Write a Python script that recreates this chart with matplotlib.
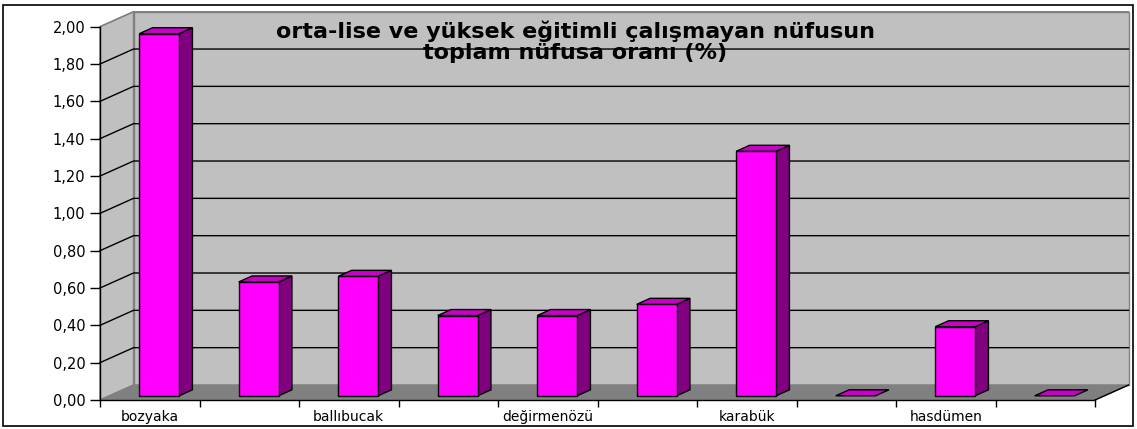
import matplotlib
matplotlib.use("Agg")
import matplotlib.pyplot as plt
from matplotlib.patches import Polygon, Rectangle

# ---- data ----
categories = ["bozyaka", "", "ballıbucak", "", "değirmenözü", "", "karabük", "", "hasdümen", ""]
values = [1.94, 0.61, 0.64, 0.43, 0.43, 0.49, 1.31, 0.00, 0.37, 0.00]
yticks = [0.0, 0.2, 0.4, 0.6, 0.8, 1.0, 1.2, 1.4, 1.6, 1.8, 2.0]
ytick_labels = ["0,00", "0,20", "0,40", "0,60", "0,80", "1,00", "1,20", "1,40", "1,60", "1,80", "2,00"]
title = "orta-lise ve yüksek eğitimli çalışmayan nüfusun\ntoplam nüfusa oranı (%)"

W, H = 1137, 429
fig = plt.figure(figsize=(W / 100, H / 100), dpi=100)
fig.patch.set_facecolor("white")

# outer border
fig.add_artist(Rectangle((3 / W, 3 / H), 1130 / W, 421 / H, transform=fig.transFigure,
                         fill=False, edgecolor="black", linewidth=1.2))

ax = fig.add_axes([100 / W, 29 / H, 995 / W, 373.3 / H])
n = len(values)
ymax = yticks[-1]
ax.set_xlim(0, n)
ax.set_ylim(0, ymax)
ax.patch.set_visible(False)

# depth (oblique) offsets in data units
DX = 33.5 / 99.5
DY = 15.0 / (373.3 / ymax)

wall = "#C0C0C0"
floor = "#808080"
edge = "#808080"

# left wall
ax.add_patch(Polygon([(0, 0), (0, ymax), (DX, ymax + DY), (DX, DY)], closed=True,
                     facecolor=wall, edgecolor=edge, lw=1, zorder=0.5, clip_on=False))
# back wall
ax.add_patch(Polygon([(DX, DY), (DX, ymax + DY), (n + DX, ymax + DY), (n + DX, DY)], closed=True,
                     facecolor=wall, edgecolor=edge, lw=1, zorder=0.5, clip_on=False))
# floor
ax.add_patch(Polygon([(0, 0), (n, 0), (n + DX, DY), (DX, DY)], closed=True,
                     facecolor=floor, edgecolor=edge, lw=1, zorder=0.6, clip_on=False))
ax.plot([n, n + DX], [0, DY], color="black", lw=1, zorder=0.7, clip_on=False)

# gridlines on walls
for v in yticks[1:]:
    ax.plot([0, DX, n + DX], [v, v + DY, v + DY], color="black" if v < ymax else edge,
            lw=1, zorder=0.8, clip_on=False)

# bars
bw = 0.4
f1 = 0.28
bd = 0.4
for i, v in enumerate(values):
    x0 = i + 0.5 - bw / 2 + f1 * DX
    x1 = x0 + bw
    b = f1 * DY
    ddx, ddy = bd * DX, bd * DY
    if v > 0:
        ax.add_patch(Polygon([(x1, b), (x1, b + v), (x1 + ddx, b + v + ddy), (x1 + ddx, b + ddy)],
                             closed=True, facecolor="#800080", edgecolor="black", lw=1,
                             zorder=3, clip_on=False))
        ax.add_patch(Polygon([(x0, b), (x1, b), (x1, b + v), (x0, b + v)], closed=True,
                             facecolor="#FF00FF", edgecolor="black", lw=1, zorder=3, clip_on=False))
    ax.add_patch(Polygon([(x0, b + v), (x1, b + v), (x1 + ddx, b + v + ddy), (x0 + ddx, b + v + ddy)],
                         closed=True, facecolor="#C800C8", edgecolor="black", lw=1, zorder=3,
                         clip_on=False))

# axes
for s in ["top", "right"]:
    ax.spines[s].set_visible(False)
for s in ["left", "bottom"]:
    ax.spines[s].set_color("black")
    ax.spines[s].set_linewidth(1)
    ax.spines[s].set_zorder(2)

ax.set_yticks(yticks)
ax.set_yticklabels(ytick_labels, fontsize=10.5, family="DejaVu Sans")
ax.tick_params(axis="y", direction="out", length=7.2, width=1, pad=3.4, colors="black")

ax.set_xticks(range(n + 1))
ax.set_xticklabels([""] * (n + 1))
ax.set_xticks([i + 0.5 for i in range(n)], minor=True)
ax.set_xticklabels(categories, minor=True, fontsize=10, family="DejaVu Sans")
ax.tick_params(axis="x", which="major", direction="out", length=5, width=1)
ax.tick_params(axis="x", which="minor", length=0, pad=7.5)

fig.text(575 / W, 1 - 42 / H, title, ha="center", va="center", fontsize=16,
         fontweight="bold", family="DejaVu Sans", linespacing=1.08)

fig.savefig("out.png", dpi=100, facecolor="white")
